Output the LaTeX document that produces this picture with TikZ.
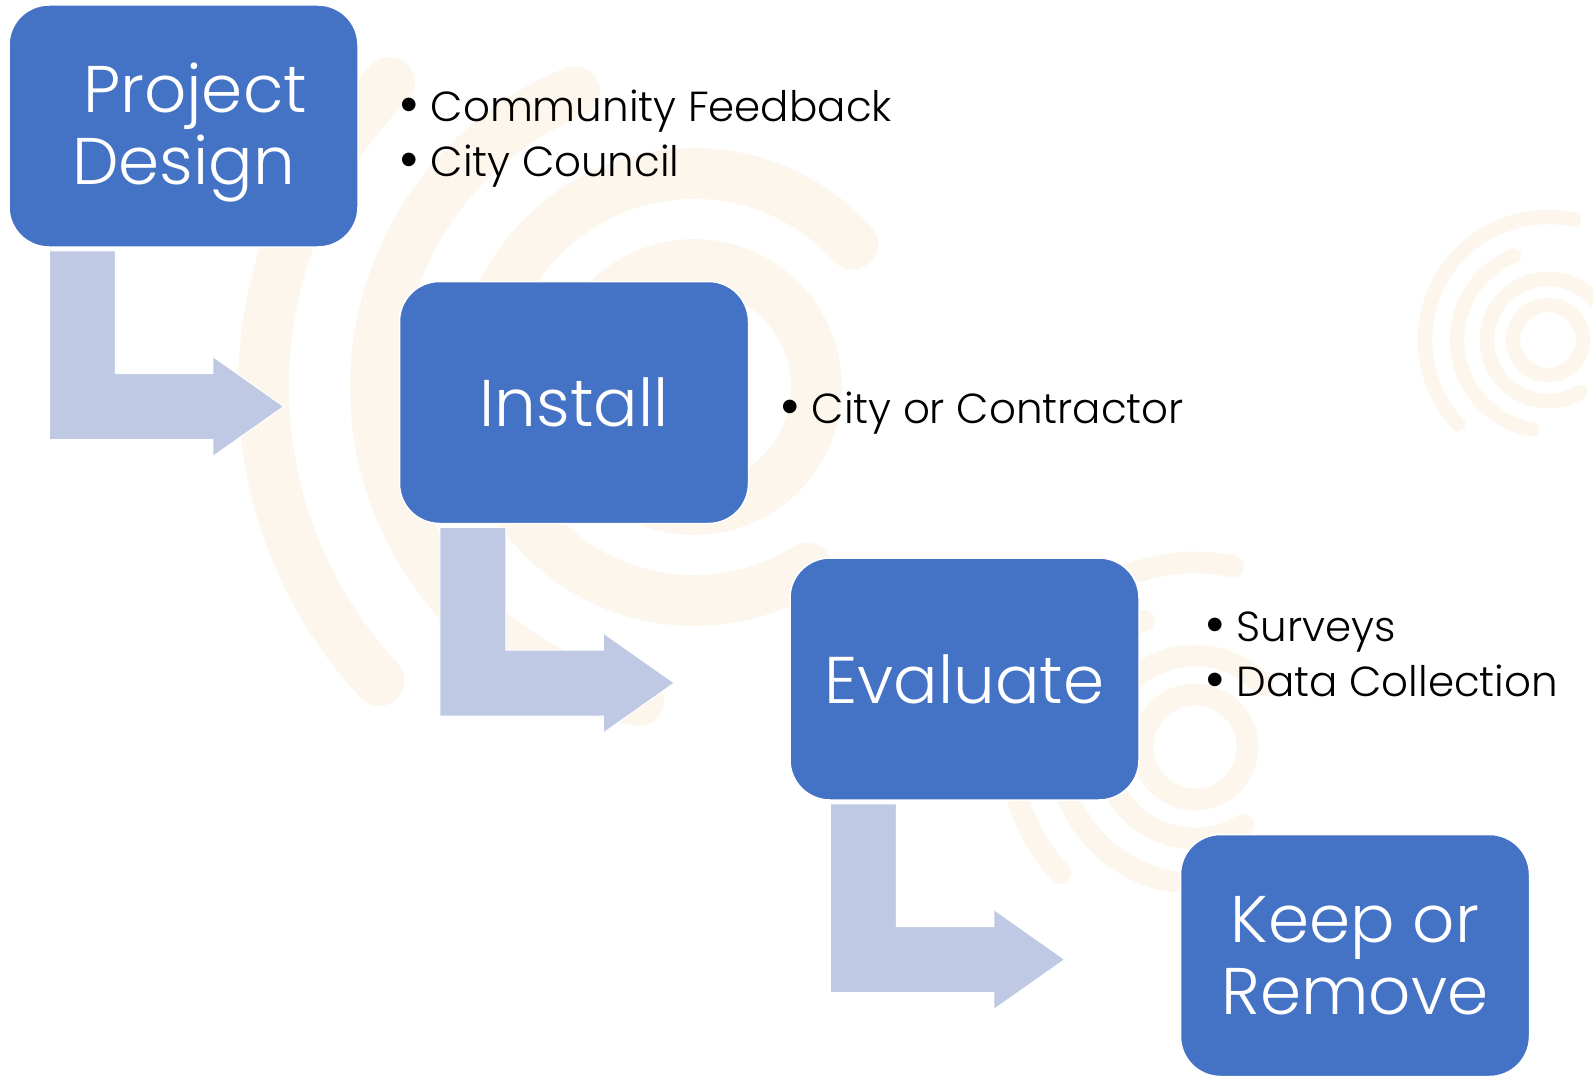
\documentclass[tikz,border=0pt]{standalone}
\usepackage{fontspec}
\setmainfont{Poppins}[UprightFont=* Light]
\newfontfamily\dotfont{Liberation Sans}
\usetikzlibrary{positioning,calc}

\definecolor{stepblue}{RGB}{68,114,196}
\definecolor{bendblue}{RGB}{191,201,227}
\definecolor{ringtan}{RGB}{253,246,236}

\tikzset{
  stepbox/.style={rectangle, rounded corners=40pt, fill=stepblue, draw=white, line width=1.5pt,
    text=white, minimum width=349pt, minimum height=242pt, align=center,
    font=\fontsize{66}{72}\selectfont},
  bendarrow/.style={fill=bendblue, draw=white, line width=1pt},
  ring/.style={draw=ringtan, line cap=round},
  note/.style={anchor=base west, inner sep=0pt, font=\fontsize{42}{54}\selectfont}
}

\newcommand{\dotitem}{{\dotfont\fontsize{50}{54}\selectfont\textbullet}\hspace{13pt}}

% faint logo: centre x, centre y, scale, start of outer arc
\newcommand{\ringlogo}[4]{%
  \begin{scope}[shift={(#1,#2)}, line width=#3*14.5pt]
    \draw[ring] (0,0) circle[radius=35*#3];
    \draw[ring] (42:{61*#3}) arc[start angle=42, end angle=302, radius=61*#3];
    \draw[ring] (112:{91*#3}) arc[start angle=112, end angle=260, radius=91*#3];
    \draw[ring] (#4:{123*#3}) arc[start angle=#4, end angle=223, radius=123*#3];
  \end{scope}}

% bent arrow from one step down to the next
\newcommand{\bendstep}[2]{%
  \path ($(#1.south west)+(41,-3)$) coordinate (s) ($(#2.west)+(-115,-4)$) coordinate (t);
  \filldraw[bendarrow] (s) -- ++(66,0) |- ($(t)+(-71,33)$) -- ++(0,17) -- (t)
    -- ++(-71,-50) -- ++(0,17) -| (s) -- cycle;}

\begin{document}
\begin{tikzpicture}[x=1pt,y=1pt]
  \fill[white] (0,0) rectangle (1593,-1081);
  \useasboundingbox (0,0) rectangle (1593,-1081);

  \ringlogo{694}{-387}{3.5}{135}
  \ringlogo{1195}{-747}{1.5}{78}
  \ringlogo{1548}{-340}{1}{78}

  \node[stepbox] (design) at (183.5,-126) {\rule{0pt}{62pt}\hspace*{23pt}Project\\Design};
  \node[stepbox, below right=33pt and 40pt of design] (install) {Install};
  \node[stepbox, below right=33pt and 40pt of install] (evaluate) {Evaluate};
  \node[stepbox, below right=33pt and 40pt of evaluate] (keep) {Keep or\\Remove};

  \foreach \a/\b in {design/install, install/evaluate, evaluate/keep}
    \bendstep{\a}{\b};

  \node[note] (feedback) at (400,-121.5) {\dotitem Community Feedback};
  \node[note] (council)  at (400,-176.5) {\dotitem City Council};
  \node[note] (contract) at (781,-423)   {\dotitem City or Contractor};
  \node[note] (surveys)  at (1206,-641)  {\dotitem Surveys};
  \node[note] (data)     at (1206,-696)  {\dotitem Data Collection};
\end{tikzpicture}
\end{document}
